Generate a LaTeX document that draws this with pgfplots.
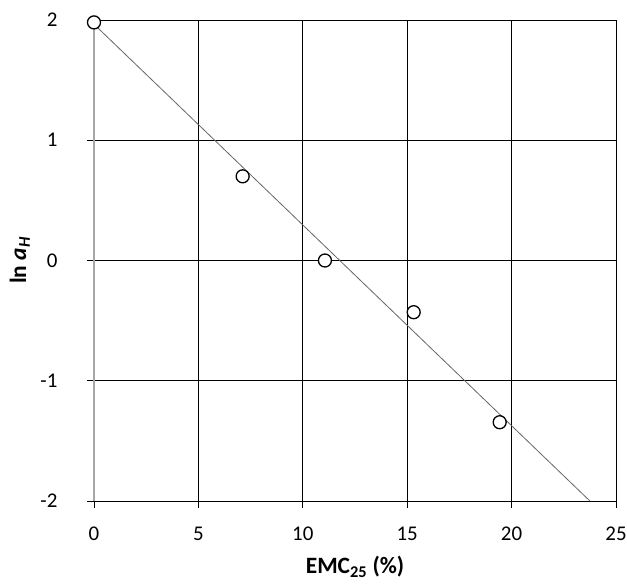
\documentclass[border=0pt]{standalone}
\usepackage{fontspec}
\setmainfont{Carlito}
\usepackage{pgfplots}
\pgfplotsset{compat=1.18}
\begin{document}
\begin{tikzpicture}
\begin{axis}[
  at={(0,0)}, anchor=south west,
  scale only axis, width=522bp, height=481bp,
  xmin=0, xmax=25, ymin=-2, ymax=2,
  xtick={0,5,10,15,20,25}, xticklabels={0,5,10,15,20,25},
  ytick={-2,-1,0,1,2}, yticklabels={-2,-1,0,1,2},
  grid=major, major grid style={black, line width=0.8bp},
  axis line style={black, line width=0.8bp},
  tick align=outside, xtick pos=bottom, ytick pos=left,
  major tick length=7bp, tick style={black, line width=0.8bp},
  ticklabel style={font=\fontsize{21}{25}\selectfont},
  xticklabel style={anchor=base, yshift=-32bp},
  yticklabel style={anchor=east, xshift=-26bp},
  label style={font=\bfseries\fontsize{23.5}{28}\selectfont},
  xlabel={EMC\textsubscript{25} (\%)},
  ylabel={ln \textit{a}\textsubscript{\textit{H}}},
  xlabel style={at={(axis description cs:0.5,-0.137)}, anchor=center},
  ylabel style={at={(axis description cs:-0.142,0.5)}, anchor=center},
  clip=false,
]
% fitted regression line
\addplot[gray!80!black, line width=0.8bp] coordinates {(0,1.965) (23.75,-2)};
% left axis drawn in grey
\draw[gray!70, line width=1.6bp] (axis cs:0,-2) -- (axis cs:0,2);
% measured points
\addplot[only marks, mark=*, mark size=6.5bp,
  mark options={fill=white, draw=black, line width=1.3bp}]
  coordinates {(0,1.98) (7.12,0.70) (11.06,0.0) (15.31,-0.43) (19.43,-1.345)};
\end{axis}
\pgfresetboundingbox
\path[use as bounding box] (-94bp,-83bp) rectangle (533bp,501bp);
\end{tikzpicture}
\end{document}
